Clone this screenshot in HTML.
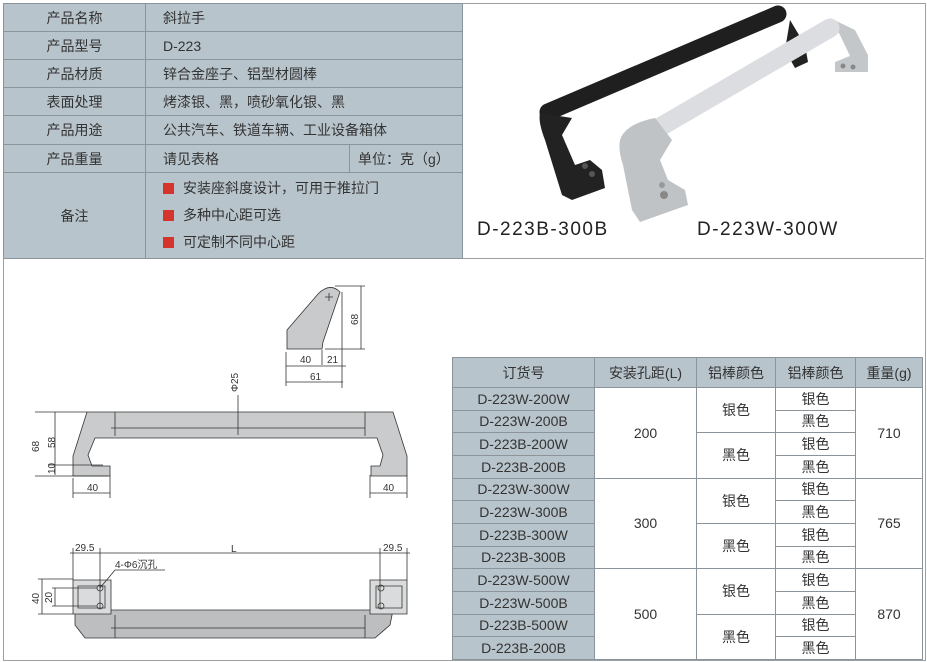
<!DOCTYPE html>
<html><head><meta charset="utf-8"><style>
body{margin:0;width:927px;height:662px;background:#fff;position:relative;overflow:hidden;font-family:"Liberation Sans","Noto Sans CJK SC",sans-serif;color:#333}
.a{position:absolute}
table{border-collapse:collapse;position:absolute}
td{border:1px solid #8a949a;padding:0;font-size:14px;color:#333}
.g{background:#b8c4cb}
.w{background:#fff}
.sq{display:inline-block;width:11px;height:11px;background:#d4342b;margin-right:9px;vertical-align:-1px}
</style></head><body>
<div class="a" style="left:3px;top:3px;width:921px;height:656px;border:1px solid #9aa0a4"></div>
<div class="a" style="left:3px;top:258px;width:921px;height:1px;background:#9aa0a4"></div>
<table style="left:3px;top:3px;width:460px;height:256px">
<tr style="height:28px"><td class="g" style="width:141px;text-align:center">产品名称</td><td class="g" colspan="2" style="padding-left:17px">斜拉手</td></tr>
<tr style="height:28px"><td class="g" style="text-align:center">产品型号</td><td class="g" colspan="2" style="padding-left:17px">D-223</td></tr>
<tr style="height:28px"><td class="g" style="text-align:center">产品材质</td><td class="g" colspan="2" style="padding-left:17px">锌合金座子、铝型材圆棒</td></tr>
<tr style="height:28px"><td class="g" style="text-align:center">表面处理</td><td class="g" colspan="2" style="padding-left:17px">烤漆银、黑，喷砂氧化银、黑</td></tr>
<tr style="height:29px"><td class="g" style="text-align:center">产品用途</td><td class="g" colspan="2" style="padding-left:17px">公共汽车、铁道车辆、工业设备箱体</td></tr>
<tr style="height:28px"><td class="g" style="text-align:center">产品重量</td><td class="g" style="padding-left:17px;width:186px">请见表格</td><td class="g" style="padding-left:8px">单位：克（g）</td></tr>
<tr><td class="g" style="text-align:center">备注</td><td class="g" colspan="2" style="padding-left:17px;line-height:27px"><span class="sq"></span>安装座斜度设计，可用于推拉门<br><span class="sq"></span>多种中心距可选<br><span class="sq"></span>可定制不同中心距</td></tr>
</table>

<svg class="a" style="left:0;top:0" width="927" height="258">
<!-- black handle -->
<path d="M790 20 L805 45 L808 62 L795 68 L785 50 Z" fill="#222"/>
<path d="M548 112 L778 14" stroke="#1f1f1f" stroke-width="17" stroke-linecap="round" fill="none"/>
<path d="M540 113 Q538 122 545 140 L562 195 L572 200 L605 188 L602 170 L590 160 L575 165 L562 135 L572 118 Z" fill="#222"/>
<circle cx="585" cy="166" r="3" fill="#555"/><circle cx="592" cy="174" r="3" fill="#555"/>
<!-- silver handle -->
<path d="M830 18 L855 30 L868 55 L868 72 L835 72 L835 62 L850 56 L840 35 Z" fill="#c4c7c9"/>
<circle cx="843" cy="66" r="2.5" fill="#888"/><circle cx="853" cy="67" r="2.5" fill="#888"/>
<path d="M655 130 L830 28" stroke="#dcdde0" stroke-width="19" stroke-linecap="round" fill="none"/>
<path d="M655 118 Q625 124 620 140 Q618 150 623 165 L632 210 L640 222 L688 205 L685 190 L668 180 L660 160 L672 140 Z" fill="#c0c3c6"/>
<circle cx="664" cy="195" r="4" fill="#888"/><circle cx="662" cy="185" r="3" fill="#999"/>
<text x="477" y="235" font-size="19" letter-spacing="1.5" fill="#222" font-family="Liberation Sans">D-223B-300B</text>
<text x="697" y="235" font-size="19" letter-spacing="1.5" fill="#222" font-family="Liberation Sans">D-223W-300W</text>
</svg>

<svg class="a" style="left:0;top:270px" width="450" height="390" font-family="Liberation Sans" font-size="10" fill="#333">
<g stroke="#333" stroke-width="0.8" fill="none">
<path d="M287 79 L287 60 L318 24 Q330 12 340 22 L323 72 L322 79 Z" fill="#c8cacc"/>
<path d="M325 27 h8 M329 23 v8 M335 16 h30 M325 79 h40 M361 16 v63 M286 82 v34 M342 22 v96 M322 80 v15 M286 96 h60 M286 112 h57"/>
<path d="M87 142 L393 142 L407 186 L407 206 L371 206 L371 196 L380 196 L383 185 L377 168 L95 168 L88 185 L92 196 L110 196 L110 206 L73 206 L73 186 Z" fill="#c9cbcd"/>
<path d="M115 142 v24 M365 142 v24 M238 125 v40 M111 158 H365"/>
<path d="M35 142 h52 M55 142 v63 M50 142 h10 M35 206 h73 M48 195 h55 M73 208 v20 M110 205 v23 M73 223 h37 M370 205 v23 M407 205 v23 M370 223 h37"/>
<path d="M75 355 L85 368 L375 368 L390 355 L393 340 L375 340 L75 340 Z" fill="#bcbec0"/>
<path d="M73 310 H111 V344 H73 Z M370 310 H407 V344 H370 Z" fill="#d9dbdd"/>
<path d="M78 316 H105 V338 H78 Z M376 316 H402 V338 H376 Z"/>
<path d="M115 345 v23 M365 345 v23 M111 358 H365"/>
<path d="M70 283 H410 M73 278 v32 M100 278 v60 M380 278 v60 M407 278 v32"/>
<path d="M38 309 h35 M42 309 v35 M38 344 h35 M52 318 h45 M52 336 h45 M55 318 v18 M100 318 l15 -18 h50"/>
<circle cx="100" cy="318" r="3"/><circle cx="100" cy="336" r="3"/><circle cx="381" cy="318" r="3"/><circle cx="381" cy="336" r="3"/>
</g>
<text x="300" y="93">40</text><text x="327" y="93">21</text><text x="310" y="110">61</text>
<text transform="translate(358 55) rotate(-90)">68</text>
<text transform="translate(238 122) rotate(-90)">Φ25</text>
<text transform="translate(39 182) rotate(-90)">68</text>
<text transform="translate(55 178) rotate(-90)">58</text>
<text transform="translate(55 204) rotate(-90)">10</text>
<text x="87" y="221">40</text><text x="383" y="221">40</text>
<text x="75" y="281">29.5</text><text x="383" y="281">29.5</text><text x="231" y="282">L</text>
<text x="115" y="298">4-Φ6沉孔</text>
<text transform="translate(39 334) rotate(-90)">40</text>
<text transform="translate(52 333) rotate(-90)">20</text>
</svg>

<table style="left:452px;top:357px;width:471px;height:303px;font-size:14px;text-align:center">
<tr style="height:30px"><td class="g" style="width:141px">订货号</td><td class="g" style="width:101px">安装孔距(L)</td><td class="g" style="width:78px">铝棒颜色</td><td class="g" style="width:79px">铝棒颜色</td><td class="g">重量(g)</td></tr>
<tr><td class="g">D-223W-200W</td><td rowspan="4">200</td><td rowspan="2">银色</td><td>银色</td><td rowspan="4">710</td></tr>
<tr><td class="g">D-223W-200B</td><td>黑色</td></tr>
<tr><td class="g">D-223B-200W</td><td rowspan="2">黑色</td><td>银色</td></tr>
<tr><td class="g">D-223B-200B</td><td>黑色</td></tr>
<tr><td class="g">D-223W-300W</td><td rowspan="4">300</td><td rowspan="2">银色</td><td>银色</td><td rowspan="4">765</td></tr>
<tr><td class="g">D-223W-300B</td><td>黑色</td></tr>
<tr><td class="g">D-223B-300W</td><td rowspan="2">黑色</td><td>银色</td></tr>
<tr><td class="g">D-223B-300B</td><td>黑色</td></tr>
<tr><td class="g">D-223W-500W</td><td rowspan="4">500</td><td rowspan="2">银色</td><td>银色</td><td rowspan="4">870</td></tr>
<tr><td class="g">D-223W-500B</td><td>黑色</td></tr>
<tr><td class="g">D-223B-500W</td><td rowspan="2">黑色</td><td>银色</td></tr>
<tr><td class="g">D-223B-200B</td><td>黑色</td></tr>
</table>
</body></html>
